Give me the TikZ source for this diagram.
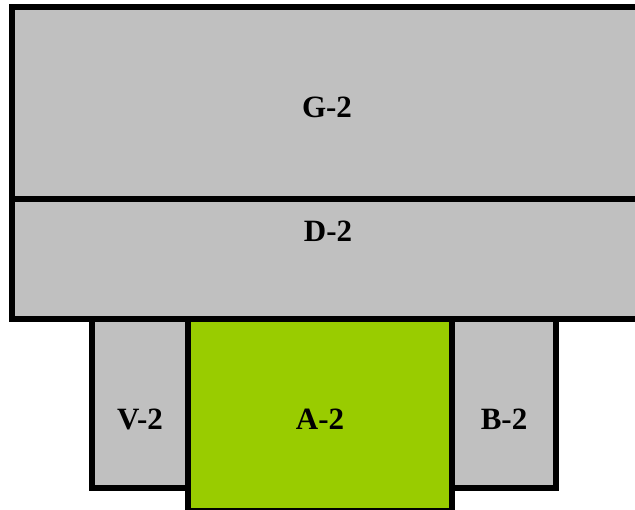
\documentclass[tikz,border=0pt]{standalone}
\usepackage{fontspec}
\setmainfont{Liberation Serif}
\usetikzlibrary{calc}
\definecolor{blockgray}{HTML}{C0C0C0}
\definecolor{blockgreen}{HTML}{99CC00}
\def\Block#1#2#3#4#5#6{%
 \filldraw[block, fill=#6] (#2,#3) rectangle (#4,#5);
 \coordinate (#1) at ($(#2,#3)!0.5!(#4,#5)$);
}

\begin{document}
\begin{tikzpicture}[x=1pt, y=-1pt,
  block/.style={draw=black, line width=6pt},
  block label/.style={font=\fontsize{31}{36}\selectfont\bfseries, inner sep=0pt}]
\useasboundingbox (0,0) rectangle (635,510);
\clip (0,0) rectangle (635,510);
% side blocks first, the green one over them
\Block{V}{92}{319}{188}{488}{blockgray}
\Block{B}{452}{319}{556}{488}{blockgray}
\Block{A}{188}{319}{452}{511.5}{blockgreen}
\Block{D}{12}{199.5}{650}{319}{blockgray}
\Block{G}{12}{7}{650}{199.5}{blockgray}
\node[block label] (G label) at (327,107) {G-2};
\node[block label] (D label) at (328,231) {D-2};
\node[block label] (V label) at (V |- 0,419) {V-2};
\node[block label] (A label) at (A |- 0,419) {A-2};
\node[block label] (B label) at (B |- 0,419) {B-2};
\end{tikzpicture}
\end{document}
